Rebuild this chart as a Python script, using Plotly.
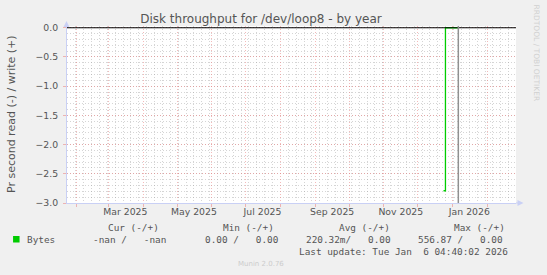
import plotly.graph_objects as go

# ---------------- data ----------------
read_dates = ["2025-12-24 00:00", "2025-12-25 18:00", "2025-12-25 18:00", "2026-01-06 04:40"]
read_values = [-2.79, -2.79, 0.0, 0.0]
zero_dates = ["2025-01-23 03:00", "2026-02-26 12:00"]
zero_values = [0.0, 0.0]
now_time = "2026-01-06 04:40:02"
x_range = ["2025-01-23 03:00", "2026-02-26 12:00"]
y_range = [-3.0, 0.03]
month_tick0 = "2025-02-01"
week_tick0 = "2025-01-24"
tick_dates = ["2025-03-16", "2025-05-16", "2025-07-16", "2025-09-16", "2025-11-16", "2026-01-16"]
tick_labels = ["Mar 2025", "May 2025", "Jul 2025", "Sep 2025", "Nov 2025", "Jan 2026"]
y_ticks = [0.0, -0.5, -1.0, -1.5, -2.0, -2.5, -3.0]
legend_headers = ["Cur (-/+)", "Min (-/+)", "Avg (-/+)", "Max (-/+)"]
legend_series = "Bytes"
legend_values = ["-nan /   -nan", "0.00 /   0.00", "220.32m/   0.00", "556.87 /   0.00"]
last_update = "Last update: Tue Jan  6 04:40:02 2026"
title_text = "Disk throughput for /dev/loop8 - by year"
y_title = "Pr second read (-) / write (+)"
watermark = "RRDTOOL / TOBI OETIKER"
footer = "Munin 2.0.76"

# ---------------- layout geometry ----------------
W, H = 547, 275
ML, MR, MT, MB = 67, 30.5, 26, 72
PW = W - ML - MR
PH = H - MT - MB

def px(xp):
    return (xp - ML) / PW

def py(yp):
    return (H - MB - yp) / PH

FONT = "DejaVu Sans"
MONO = "DejaVu Sans Mono"
TXT = "#555555"
AXIS = "#C9D0F5"
RED = "rgba(235,130,130,0.55)"
GRAY = "rgba(150,150,150,0.4)"
GREEN = "#00CC00"

def nb(s):
    return s.replace(" ", "\u00a0")

fig = go.Figure()

# read series
fig.add_trace(go.Scatter(x=read_dates, y=read_values, mode="lines",
                         line=dict(color=GREEN, width=1.3),
                         showlegend=False, hoverinfo="skip"))
# hrule at zero (drawn on top)
fig.add_trace(go.Scatter(x=zero_dates, y=zero_values, mode="lines",
                         line=dict(color="#000000", width=1.2),
                         showlegend=False, hoverinfo="skip"))
# dummy trace for overlay grid axis
fig.add_trace(go.Scatter(x=x_range, y=[None, None], xaxis="x2", yaxis="y",
                         mode="lines", showlegend=False, hoverinfo="skip"))

fig.update_layout(
    width=W, height=H,
    margin=dict(l=ML, r=MR, t=MT, b=MB),
    paper_bgcolor="#F0F0F0",
    plot_bgcolor="#FFFFFF",
    showlegend=False,
    font=dict(family=FONT, color=TXT, size=9.3),
    title=dict(text=title_text, x=261 / W, xref="container", xanchor="center",
               y=1 - 19 / H, yref="container", yanchor="middle",
               font=dict(family=FONT, size=12, color=TXT)),
    xaxis=dict(type="date", range=x_range, tickmode="array",
               tickvals=tick_dates, ticktext=tick_labels,
               showgrid=False, zeroline=False, ticks="",
               showline=True, linecolor=AXIS, linewidth=1,
               tickfont=dict(family=FONT, size=9.3, color=TXT)),
    xaxis2=dict(type="date", overlaying="x", matches="x", anchor="y", side="bottom",
                range=x_range, tickmode="linear", tick0=month_tick0, dtick="M1",
                showticklabels=False, showgrid=True, gridcolor=RED, griddash="1px,2px",
                gridwidth=1, ticks="outside", ticklen=3, tickcolor=RED,
                zeroline=False, showline=False,
                minor=dict(tickmode="linear", tick0=week_tick0, dtick=7 * 86400000,
                           showgrid=True, gridcolor=GRAY, griddash="1px,2px",
                           gridwidth=1, ticks="")),
    yaxis=dict(range=y_range, tickmode="array", tickvals=y_ticks,
               tickformat=".1f", showgrid=True, gridcolor=RED, griddash="1px,2px",
               gridwidth=1, zeroline=False, ticks="outside", ticklen=3,
               tickcolor=RED, showline=True, linecolor=AXIS, linewidth=1,
               ticklabelstandoff=3,
               tickfont=dict(family=FONT, size=9.3, color=TXT),
               minor=dict(tickmode="linear", tick0=0, dtick=0.1, showgrid=True,
                          gridcolor=GRAY, griddash="1px,2px", gridwidth=1, ticks="")),
)

shapes = []
# "now" line
shapes.append(dict(type="line", xref="x", yref="paper", x0=now_time, x1=now_time,
                   y0=0, y1=1, line=dict(color="#909090", width=1.5)))
# axis arrows
shapes.append(dict(type="line", xref="paper", yref="paper", x0=px(66.5), x1=px(66.5),
                   y0=1, y1=py(22), line=dict(color=AXIS, width=1)))
shapes.append(dict(type="path", xref="paper", yref="paper",
                   path=f"M {px(63.5)} {py(27)} L {px(69.5)} {py(27)} L {px(66.5)} {py(21)} Z",
                   fillcolor=AXIS, line=dict(width=0)))
shapes.append(dict(type="line", xref="paper", yref="paper", x0=1, x1=px(520),
                   y0=0, y1=0, line=dict(color=AXIS, width=1)))
shapes.append(dict(type="path", xref="paper", yref="paper",
                   path=f"M {px(518)} {py(200)} L {px(518)} {py(206)} L {px(524)} {py(203)} Z",
                   fillcolor=AXIS, line=dict(width=0)))
# legend colour box
shapes.append(dict(type="rect", xref="paper", yref="paper",
                   x0=px(13), x1=px(19.5), y0=py(242.5), y1=py(236),
                   fillcolor=GREEN, line=dict(width=0)))
fig.update_layout(shapes=shapes)

ann = []
def add_text(text, x, y, size=9.4, family=MONO, color=TXT, xanchor="left", angle=0):
    ann.append(dict(text=nb(text), x=px(x), y=py(y), xref="paper", yref="paper",
                    xanchor=xanchor, yanchor="middle", showarrow=False,
                    textangle=angle, font=dict(family=family, size=size, color=color)))

header_x = [106, 221, 337, 452]
value_x = [91, 203, 304, 416]
for t, x in zip(legend_headers, header_x):
    add_text(t, x, 227.7)
add_text(legend_series, 25, 239.3)
for t, x in zip(legend_values, value_x):
    add_text(t, x, 239.3)
add_text(last_update, 297, 251)
add_text(footer, 261, 264, size=7, family=FONT, color="#CCCCCC", xanchor="center")
add_text(y_title, 11.5, 114.5, size=11, family=FONT, color=TXT, xanchor="center", angle=-90)
add_text(watermark, 538, 53, size=7.5, family=FONT, color="#D0D0D0", xanchor="center", angle=90)
fig.update_layout(annotations=ann)

fig.write_html("out.html")
